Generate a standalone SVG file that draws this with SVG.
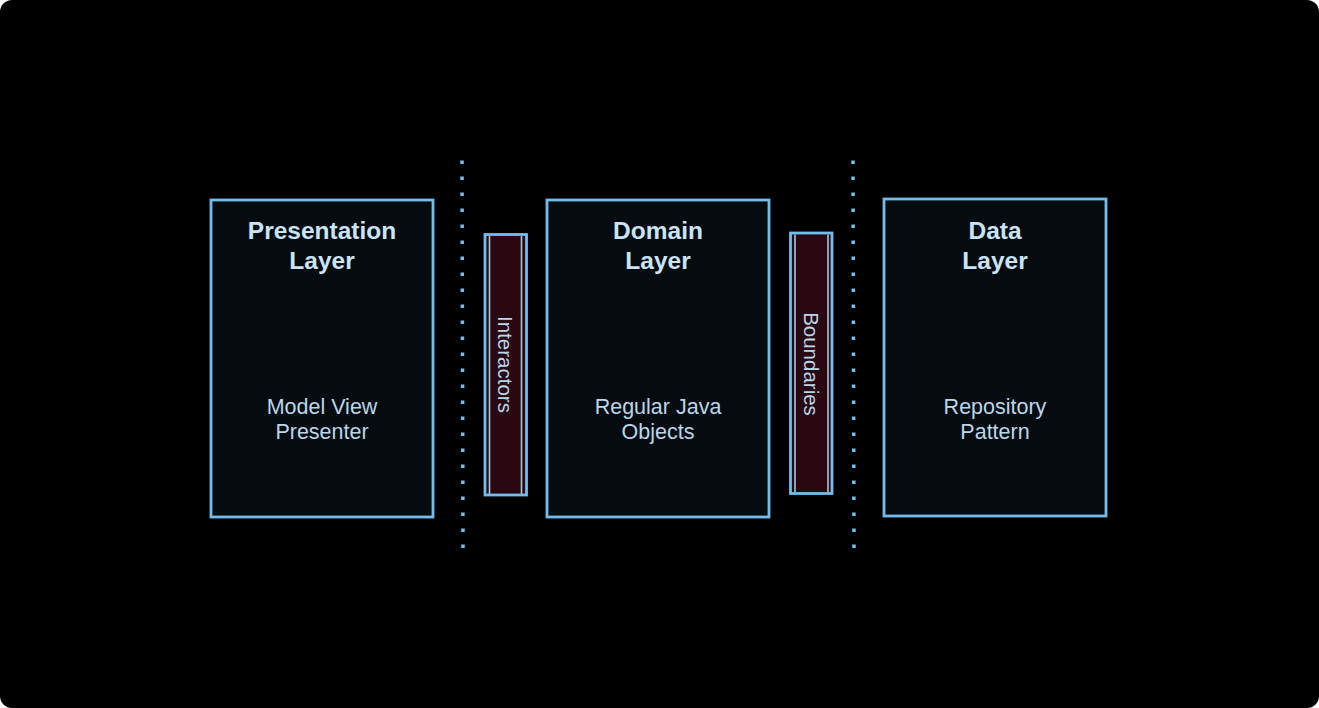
<svg xmlns="http://www.w3.org/2000/svg" width="1319" height="708" viewBox="0 0 1319 708">
<style>
.box{fill:#050b0e;stroke:#72bdee;stroke-width:2.8}
.proc{fill:#2a0812;stroke:#72bdee;stroke-width:2.8}
.inner{stroke:#a9c6d8;stroke-width:1.6}
.title{font-family:"Liberation Sans",Arial,sans-serif;font-weight:bold;font-size:24.5px;fill:#c8e4f6;text-anchor:middle}
.sub{font-family:"Liberation Sans",Arial,sans-serif;font-size:21.5px;fill:#b9d7ea;text-anchor:middle}
.vert{font-family:"Liberation Sans",Arial,sans-serif;font-size:20.5px;fill:#b9d7ea;text-anchor:middle}
.dots{stroke:#72c0f0;stroke-width:3.5;stroke-dasharray:3.5 12.5;fill:none}
</style>
<rect x="0" y="0" width="1319" height="708" fill="#ffffff"/>
<rect x="0" y="0" width="1319" height="708" rx="12" fill="#000000"/>
<g id="connectors">
<line class="dots" x1="462" y1="160.5" x2="463" y2="548"/>
<line class="dots" x1="853" y1="160.5" x2="854" y2="548"/>
</g>
<g id="presentation">
<rect class="box" x="211" y="200" width="222" height="317"/>
<text class="title" x="322" y="238.5">Presentation</text>
<text class="title" x="322" y="268.5">Layer</text>
<text class="sub" x="322" y="414">Model View</text>
<text class="sub" x="322" y="439">Presenter</text>
</g>
<g id="interactors">
<rect class="proc" x="485" y="234.5" width="41.5" height="260.5"/>
<line class="inner" x1="489.5" y1="236" x2="489.5" y2="494"/>
<line class="inner" x1="521.5" y1="236" x2="521.5" y2="494"/>
<text class="vert" transform="translate(498,364.5) rotate(90)">Interactors</text>
</g>
<g id="domain">
<rect class="box" x="547" y="200" width="222" height="317"/>
<text class="title" x="658" y="238.5">Domain</text>
<text class="title" x="658" y="268.5">Layer</text>
<text class="sub" x="658" y="414">Regular Java</text>
<text class="sub" x="658" y="439">Objects</text>
</g>
<g id="boundaries">
<rect class="proc" x="790.5" y="233" width="41.5" height="260.5"/>
<line class="inner" x1="795" y1="234.5" x2="795" y2="492.5"/>
<line class="inner" x1="828" y1="234.5" x2="828" y2="492.5"/>
<text class="vert" transform="translate(804,364) rotate(90)">Boundaries</text>
</g>
<g id="data">
<rect class="box" x="884" y="199" width="222" height="317"/>
<text class="title" x="995" y="238.5">Data</text>
<text class="title" x="995" y="268.5">Layer</text>
<text class="sub" x="995" y="414">Repository</text>
<text class="sub" x="995" y="439">Pattern</text>
</g>
</svg>
